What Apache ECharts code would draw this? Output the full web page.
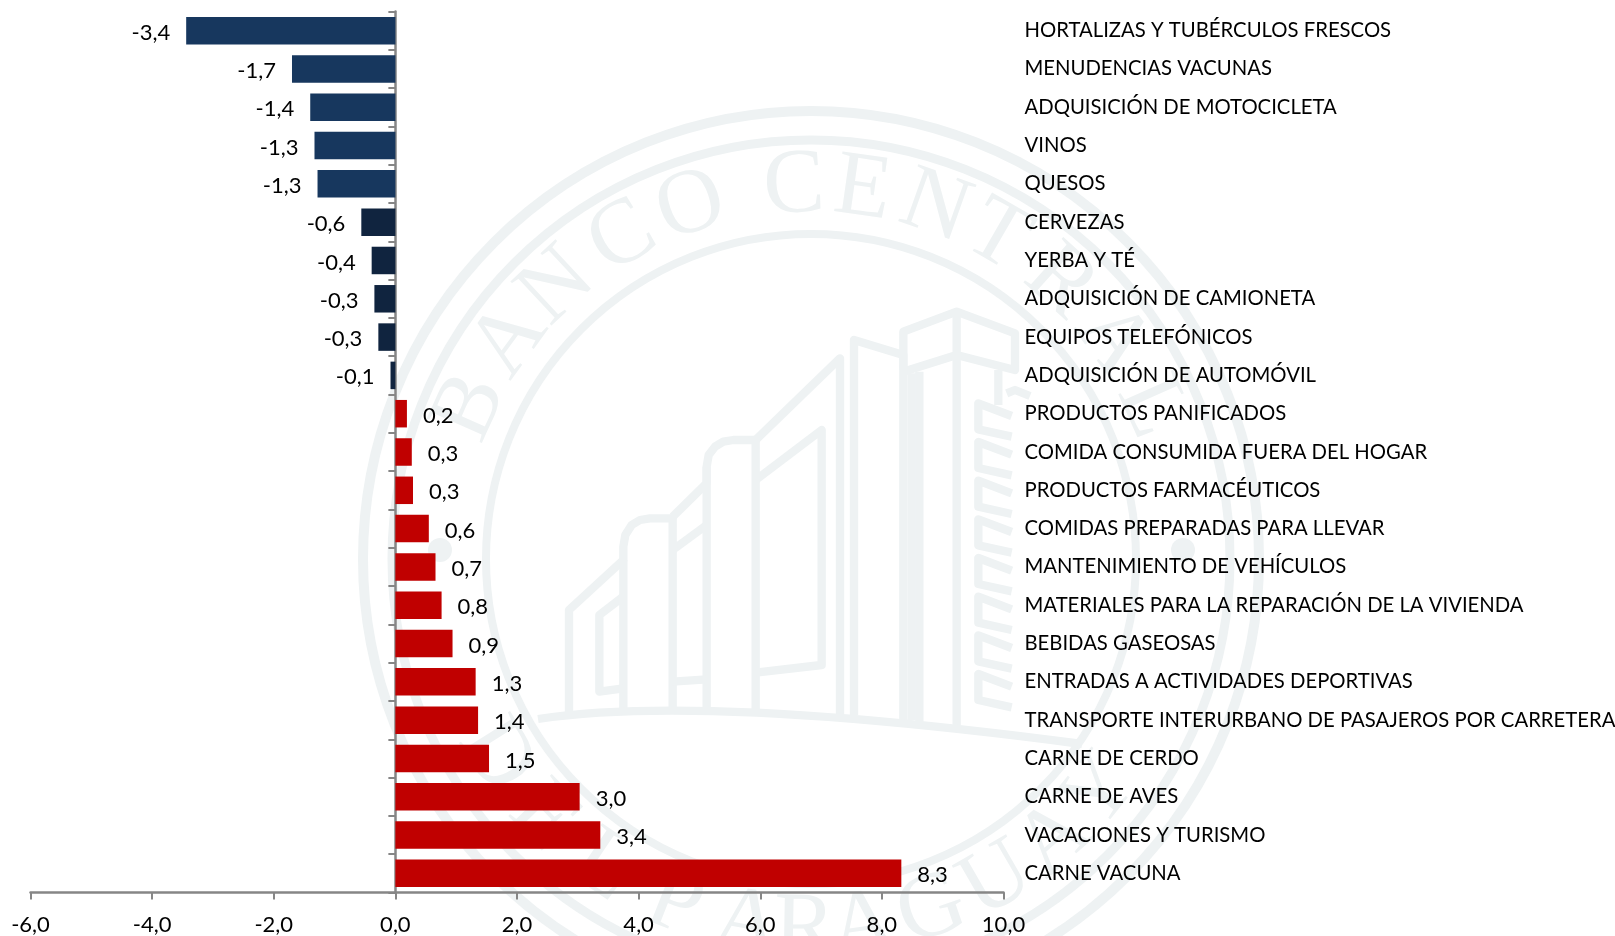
<!DOCTYPE html>
<html><head><meta charset="utf-8">
<style>html,body{margin:0;padding:0;background:#fff}#c{width:1615px;height:936px}</style>
<script src="https://cdn.jsdelivr.net/npm/echarts@6/dist/echarts.min.js"></script>
</head><body><div id="c"></div>
<script>
const categories = ["HORTALIZAS Y TUBÉRCULOS FRESCOS","MENUDENCIAS VACUNAS","ADQUISICIÓN DE MOTOCICLETA","VINOS","QUESOS","CERVEZAS","YERBA Y TÉ","ADQUISICIÓN DE CAMIONETA","EQUIPOS TELEFÓNICOS","ADQUISICIÓN DE AUTOMÓVIL","PRODUCTOS PANIFICADOS","COMIDA CONSUMIDA FUERA DEL HOGAR","PRODUCTOS FARMACÉUTICOS","COMIDAS PREPARADAS PARA LLEVAR","MANTENIMIENTO DE VEHÍCULOS","MATERIALES PARA LA REPARACIÓN DE LA VIVIENDA","BEBIDAS GASEOSAS","ENTRADAS A ACTIVIDADES DEPORTIVAS","TRANSPORTE INTERURBANO DE PASAJEROS POR CARRETERA","CARNE DE CERDO","CARNE DE AVES","VACACIONES Y TURISMO","CARNE VACUNA"];
const values = [-3.44,-1.70,-1.40,-1.33,-1.28,-0.56,-0.39,-0.345,-0.28,-0.08,0.19,0.27,0.29,0.55,0.66,0.76,0.94,1.32,1.36,1.54,3.03,3.37,8.32];

const FONT = 'Lato';
const SEAL = '#eef2f3';
const comma = v => v.toFixed(1).replace('.', ',');
const CX = 811, CY = 559;

// watermark: seal of the bank, purely decorative background
const topLetters = [['B',-66],['A',-54],['N',-43],['C',-30.4],['O',-18.8],['C',-2.6],['E',8],['N',19.5],['T',30],['R',42],['A',54],['L',66]];
const bottomLetters = [['D',-58],['E',-46],['L',-34],['P',-21.6],['A',-10],['R',-1],['A',8],['G',19],['U',30],['A',41],['Y',51]];
const LR = 372;
const letter = (ch, x, y, rot) => ({type:'text', x, y, rotation:rot, silent:true, z:-5,
  style:{text:ch, fill:SEAL, font:'92px "Liberation Serif"', align:'center', verticalAlign:'middle'}});
const rad = d => d*Math.PI/180;
const seal = [];
[[448,10],[419,9],[325,8]].forEach(([r,w]) => seal.push({type:'circle', silent:true, z:-5,
  shape:{cx:CX,cy:CY,r}, style:{fill:null, stroke:SEAL, lineWidth:w}}));
[[-1,371],[1,372]].forEach(([s,r]) => seal.push({type:'circle', silent:true, z:-5,
  shape:{cx:CX+s*r,cy:CY-9,r:12}, style:{fill:SEAL}}));
topLetters.forEach(([c,a]) => seal.push(letter(c, CX+LR*Math.sin(rad(a)), CY-LR*Math.cos(rad(a)), -rad(a))));
bottomLetters.forEach(([c,a]) => seal.push(letter(c, CX+LR*Math.sin(rad(a)), CY+LR*Math.cos(rad(a)), rad(a))));

// building outline, traced in a 3x local frame
const lines = [
 [[57,1270],[57,960],[220,810],[220,770],[226,735],[245,705],[270,690],[300,685],[368,685],[368,1270]],
 [[220,810],[220,1270]],
 [[220,920],[148,975],[148,1205],[220,1195]],
 [[368,680],[470,580],[470,530],[476,495],[495,470],[520,455],[550,450],[617,450],[617,1270]],
 [[470,530],[470,1270]],
 [[368,780],[470,705]],
 [[368,1175],[470,1168]],
 [[617,450],[870,205],[870,1275]],
 [[617,570],[815,420],[815,1125],[617,1148]],
 [[912,1275],[912,150],[1060,195],[1060,1290]],
 [[1060,240],[1060,125],[1220,65],[1395,130],[1395,240],[1220,195],[1060,245]],
 [[1220,65],[1220,1305]],
 [[1085,250],[1085,1290]],[[1108,245],[1108,1295]],
 [[1345,240],[1345,345]],[[1370,310],[1395,300],[1440,318]]
];
for (let k = 0; k < 8; k++) {
  const y = 340 + k*116;
  lines.push([[1385,y+38],[1285,y],[1285,y+78],[1385,y+100]]);
}
const building = lines.map(points => ({type:'polyline', silent:true, z:-5, shape:{points},
  style:{fill:null, stroke:SEAL, lineWidth:25, lineJoin:'round'}}));
building.push({type:'bezierCurve', silent:true, z:-5,
  shape:{x1:-36,y1:1287,cpx1:460,cpy1:1212,x2:1596,y2:1362},
  style:{fill:null, stroke:SEAL, lineWidth:25}});

const chart = echarts.init(document.getElementById('c'), null, {renderer:'canvas'});
chart.setOption({
  animation:false,
  backgroundColor:'#fff',
  graphic:[
    {type:'group', silent:true, z:-5, children:seal},
    {type:'group', silent:true, z:-5, x:550, y:290, scaleX:1/3, scaleY:1/3, children:building}
  ],
  grid:{left:30.5, right:611.5, top:11.5, bottom:43.5, containLabel:false, outerBoundsMode:'none'},
  xAxis:{type:'value', min:-6, max:10, interval:2,
    axisLine:{show:true, onZero:false, lineStyle:{color:'#868686', width:2.5}},
    axisTick:{show:true, length:7, lineStyle:{color:'#868686', width:2}},
    splitLine:{show:false},
    axisLabel:{color:'#000', fontFamily:FONT, fontSize:22, margin:21, formatter:comma, hideOverlap:false, showMinLabel:true, showMaxLabel:true}
  },
  yAxis:[
    {type:'category', inverse:true, data:categories, position:'left',
     axisLine:{show:true, onZero:true, lineStyle:{color:'#868686', width:2.5}},
     axisTick:{show:true, length:7, lineStyle:{color:'#868686', width:2}},
     axisLabel:{show:false}},
    {type:'category', inverse:true, data:categories, position:'right',
     axisLine:{show:false}, axisTick:{show:false},
     axisLabel:{show:true, interval:0, color:'#000', fontFamily:FONT, fontSize:20.3, margin:21, align:'left', hideOverlap:false, padding:[6,0,0,0]}}
  ],
  series:[{
    type:'bar', xAxisIndex:0, yAxisIndex:0, barWidth:27.5,
    data:values.map((v,i) => ({
      value:v,
      itemStyle:{color: v>=0 ? '#C00000' : (i<5 ? '#17375E' : '#10243F')},
      label:{position: v<0 ? 'left' : 'right'}
    })),
    label:{show:true, distance:16, offset:[0,2], color:'#000', fontFamily:FONT, fontSize:22,
      formatter:p => comma(p.value)}
  }]
});
</script></body></html>
